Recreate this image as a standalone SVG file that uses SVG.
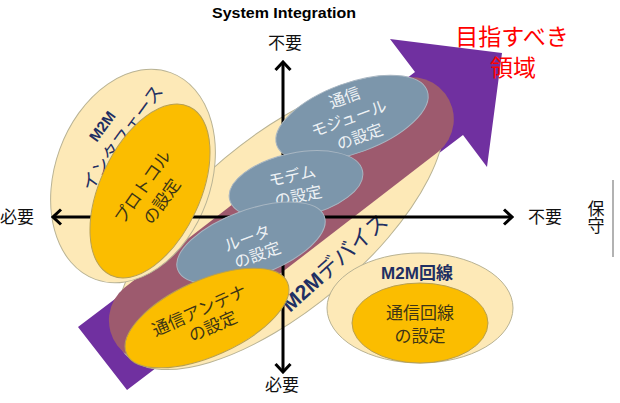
<svg xmlns="http://www.w3.org/2000/svg" width="620" height="403" viewBox="0 0 620 403">
<defs>
<style>
.jp{font-family:"Noto Sans CJK JP","Noto Sans",sans-serif}
.en{font-family:"Liberation Sans",Arial,sans-serif}
.pale{fill:#FDE9B7;stroke:#B9B394;stroke-width:1}
.org{fill:#FBBD00;stroke:#B8A050;stroke-width:1}
.blu{fill:#7C96AB;stroke:#A8B6C2;stroke-width:1}
.tb{fill:#EEF2F5;font-size:16px;text-anchor:middle}
.to{fill:#3D3516;font-size:17px;text-anchor:middle}
.navy{fill:#1F2F63}
.ax{stroke:#000;stroke-width:3;fill:none}
.lbl{fill:#111;font-size:17px}
</style>
<marker id="chev" viewBox="0 0 12 18" refX="10" refY="9" markerWidth="12" markerHeight="18" markerUnits="userSpaceOnUse" orient="auto-start-reverse">
<path d="M2,1.5 L10,9 L2,16.5" fill="none" stroke="#000" stroke-width="3"/>
</marker>
</defs>
<rect width="620" height="403" fill="#fff"/>

<g id="target-arrow">
<polygon points="78,327 415,72 390,39 502,53 487,167 463,135 127,390" fill="#7030A0"/>
</g>

<g id="m2m-device">
<ellipse class="pale" cx="280" cy="224" rx="202" ry="86" transform="rotate(-40 280 224)"/>
<path d="M176,354 L438,152 A42,42 0 0 0 386.7,85.5 L124.7,287.5 A42,42 0 0 0 176,354 Z" fill="#9D5A6E"/>
<text class="en navy" transform="translate(290,313) rotate(-42)" font-size="21"><tspan font-weight="bold">M2M</tspan><tspan class="jp" font-size="22">デバイス</tspan></text>
</g>

<g id="m2m-interface">
<ellipse class="pale" cx="133" cy="176" rx="78" ry="110" transform="rotate(20 133 176)"/>
<g transform="translate(112,132) rotate(-54)">
<text class="en navy" x="-1" y="-6" font-size="15" font-weight="bold" text-anchor="middle">M2M</text>
<text class="jp navy" x="1" y="18" font-size="18" text-anchor="middle">インタフェース</text>
</g>
</g>

<g id="axes">
<line class="ax" x1="283" y1="372" x2="283" y2="62" marker-start="url(#chev)" marker-end="url(#chev)"/>
<line class="ax" x1="53" y1="217" x2="512" y2="217" marker-start="url(#chev)" marker-end="url(#chev)"/>
</g>

<g id="protocol">
<ellipse class="org" cx="150" cy="191" rx="50" ry="93" transform="rotate(25 150 191)"/>
<g transform="translate(150,192) rotate(-55)">
<text class="jp to" x="0" y="-3">プロトコル</text>
<text class="jp to" x="-1" y="21">の設定</text>
</g>
</g>

<g id="module">
<ellipse class="blu" cx="352" cy="118" rx="80" ry="35" transform="rotate(-20 352 118)"/>
<g transform="translate(352,118) rotate(-20)">
<text class="jp tb" x="0" y="-16">通信</text>
<text class="jp tb" x="-3" y="5">モジュール</text>
<text class="jp tb" x="1" y="26">の設定</text>
</g>
</g>

<g id="modem">
<ellipse class="blu" cx="296" cy="185" rx="68" ry="32" transform="rotate(-12 296 185)"/>
<g transform="translate(296,185) rotate(-12)">
<text class="jp tb" x="-2" y="-4" font-size="18">モデム</text>
<text class="jp tb" x="0" y="17" font-size="18">の設定</text>
</g>
</g>

<g id="router">
<ellipse class="blu" cx="251" cy="243" rx="78" ry="33" transform="rotate(-20 251 243)"/>
<g transform="translate(251,243) rotate(-20)">
<text class="jp tb" x="-2" y="0">ルータ</text>
<text class="jp tb" x="2" y="19">の設定</text>
</g>
</g>

<g id="antenna">
<ellipse class="org" cx="207" cy="318" rx="88" ry="38" transform="rotate(-24 207 318)"/>
<g transform="translate(207,318) rotate(-24)">
<text class="jp to" x="-4" y="-4">通信アンテナ</text>
<text class="jp to" x="2" y="16">の設定</text>
</g>
</g>

<g id="m2m-line">
<ellipse class="pale" cx="420" cy="308" rx="93" ry="55"/>
<ellipse class="org" cx="420" cy="323" rx="68" ry="40"/>
<text class="en navy" x="417" y="279" font-size="17" font-weight="bold" text-anchor="middle">M2M<tspan class="jp">回線</tspan></text>
<text class="jp to" x="420" y="319" font-size="16">通信回線</text>
<text class="jp to" x="420" y="342" font-size="16">の設定</text>
</g>

<g id="labels">
<text class="en" x="284" y="18" font-size="14" font-weight="bold" text-anchor="middle" textLength="144" lengthAdjust="spacingAndGlyphs">System Integration</text>
<text class="jp lbl" x="285" y="49" text-anchor="middle">不要</text>
<text class="jp lbl" x="0" y="223">必要</text>
<text class="jp lbl" x="528" y="223" font-size="18">不要</text>
<text class="jp lbl" x="282" y="391" font-size="18" text-anchor="middle">必要</text>
<text class="jp lbl" x="596" y="200" font-size="18" writing-mode="vertical-rl">保守</text>
<line x1="613" y1="180" x2="613" y2="257" stroke="#999" stroke-width="1.5"/>
<text class="jp" x="512" y="45" font-size="23" fill="#F00" text-anchor="middle">目指すべき</text>
<text class="jp" x="513" y="76" font-size="23" fill="#F00" text-anchor="middle">領域</text>
</g>
</svg>
